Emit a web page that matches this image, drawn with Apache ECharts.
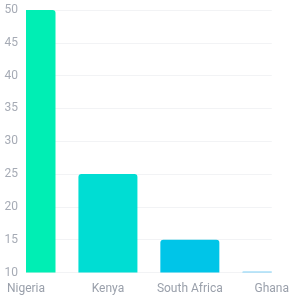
<!DOCTYPE html>
<html><head><meta charset="utf-8">
<script src="https://cdn.jsdelivr.net/npm/echarts@6/dist/echarts.min.js"></script>
<style>html,body{margin:0;padding:0;background:#fff}#c{width:292px;height:300px}</style>
</head><body><div id="c"></div>
<script>
const categories = ['Nigeria', 'Kenya', 'South Africa', 'Ghana'];
const values = [50, 25, 15, 10.15];
const barColors = ['#00EEB4', '#00DDD3', '#00C5E8', '#7FD0F5'];
const yTicks = [10, 15, 20, 25, 30, 35, 40, 45, 50];

const chart = echarts.init(document.getElementById('c'), null, {renderer: 'canvas'});
const BAR_W = 59;
chart.setOption({
  animation: false,
  grid: {left: 26, right: 20, top: 10, bottom: 27.5, containLabel: false},
  xAxis: {
    type: 'category', data: categories, boundaryGap: false,
    axisLine: {show: false}, axisTick: {show: false},
    axisLabel: {color: '#9aa0ab', fontSize: 12, fontFamily: 'Roboto, sans-serif', margin: 10, interval: 0}
  },
  yAxis: {
    type: 'value', min: yTicks[0], max: yTicks[yTicks.length - 1], interval: 5,
    axisLine: {show: false}, axisTick: {show: false},
    axisLabel: {color: '#a6abb5', fontSize: 12, fontFamily: 'Roboto, sans-serif', margin: 8},
    splitLine: {lineStyle: {color: '#f2f3f5', width: 1}}
  },
  series: [{
    type: 'custom',
    encode: {x: 0, y: 1},
    data: values.map((v, i) => [i, v]),
    renderItem: function (params, api) {
      const top = api.coord([api.value(0), api.value(1)]);
      const base = api.coord([api.value(0), yTicks[0]]);
      const cs = params.coordSys;
      const rect = echarts.graphic.clipRectByRect(
        {x: top[0] - BAR_W / 2, y: top[1], width: BAR_W, height: base[1] - top[1]},
        {x: cs.x, y: cs.y, width: cs.width, height: cs.height}
      );
      if (!rect) return;
      const leftClipped = rect.x > top[0] - BAR_W / 2 + 0.5;
      const rightClipped = rect.x + rect.width < top[0] + BAR_W / 2 - 0.5;
      const r = Math.min(3, rect.height);
      return {
        type: 'rect',
        shape: {x: rect.x, y: rect.y, width: rect.width, height: rect.height,
                r: [leftClipped ? 0 : r, rightClipped ? 0 : r, 0, 0]},
        style: {fill: barColors[params.dataIndex]}
      };
    }
  }]
});
</script></body></html>
